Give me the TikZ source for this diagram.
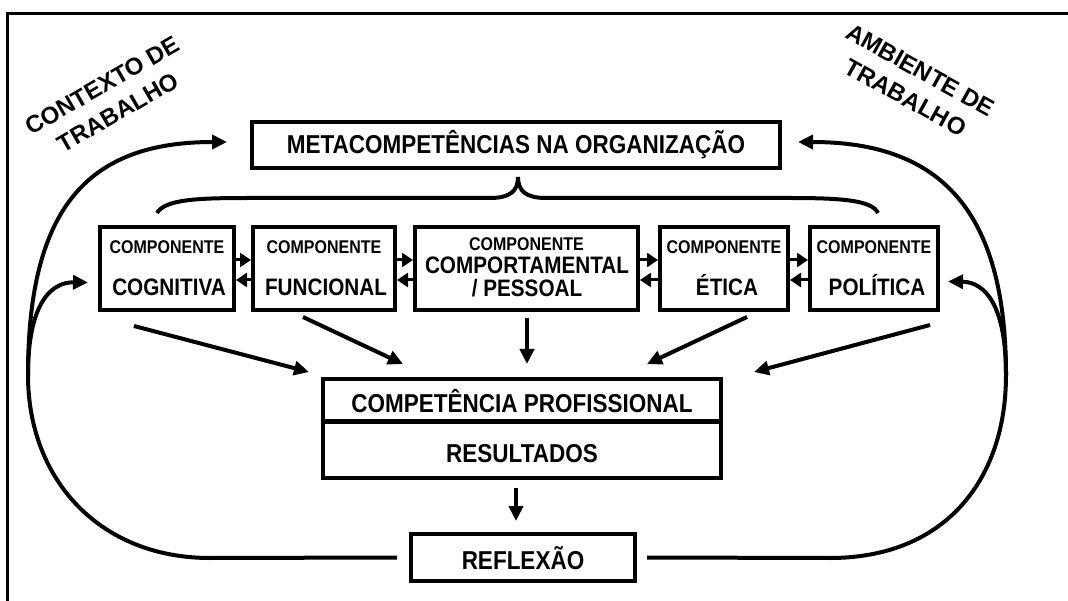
\documentclass[tikz,border=0pt]{standalone}
\usepackage{fontspec}
\usepackage{graphicx}
\setmainfont{Liberation Sans}
\usetikzlibrary{arrows.meta,calc}
\newcommand\vstretch[1]{\scalebox{1}[1.15]{#1}}
\begin{document}
\begin{tikzpicture}[x=1pt,y=-1pt,
  box/.style={draw,line width=4pt,inner sep=0pt,minimum height=#1},
  box/.default=83pt,
  conn/.style={line width=4pt,-{Triangle[length=15pt,width=14pt]}},
  dbl/.style={line width=3pt,-{Triangle[length=11pt,width=14pt]}},
  curveline/.style={line width=4pt},
  bigtxt/.style={font=\fontsize{22.5}{22.5}\selectfont\bfseries,anchor=base,inner sep=0pt},
  midtxt/.style={font=\fontsize{20.7}{20.7}\selectfont\bfseries,anchor=base,inner sep=0pt},
  smalltxt/.style={font=\fontsize{16}{16}\selectfont\bfseries,anchor=base,inner sep=0pt},
  lbl/.style={font=\fontsize{24}{31}\selectfont\bfseries,inner sep=0pt,align=center}
]
\useasboundingbox (0,0) rectangle (1068,601);
% frame
\draw[line width=3pt] (1068,14) -- (7,14) -- (7,601);

% boxes
\node[box=46pt,minimum width=528pt] (meta) at (516,145) {};
\node[box,minimum width=134pt] (cog) at (167,268.5) {};
\node[box,minimum width=142pt] (fun) at (324,268.5) {};
\node[box,minimum width=223pt] (cmp) at (526.5,268.5) {};
\node[box,minimum width=128pt] (eti) at (724,268.5) {};
\node[box,minimum width=128pt] (pol) at (874,268.5) {};
\node[box=42pt,minimum width=398pt] (prof) at (522,400) {};
\node[box=56pt,minimum width=398pt] (res) at (522,450) {};
\node[box=47pt,minimum width=224pt] (ref) at (523,557.5) {};

% texts
\node[bigtxt] (tmeta) at (516,154) {\vstretch{METACOMPETÊNCIAS NA ORGANIZAÇÃO}};
\node[bigtxt] (tprof) at (522,412) {\vstretch{COMPETÊNCIA PROFISSIONAL}};
\node[bigtxt] (tres) at (522,462) {\vstretch{RESULTADOS}};
\node[bigtxt] (tref) at (523,569) {\vstretch{REFLEXÃO}};

\node[smalltxt] (c1a) at (167,254) {\vstretch{COMPONENTE}};
\node[midtxt] (c1b) at (169,296) {\vstretch{COGNITIVA}};
\node[smalltxt] (c2a) at (324,254) {\vstretch{COMPONENTE}};
\node[midtxt] (c2b) at (326,296) {\vstretch{FUNCIONAL}};
\node[smalltxt] (c3a) at (526.5,251) {\vstretch{COMPONENTE}};
\node[midtxt] (c3b) at (527,274) {\vstretch{COMPORTAMENTAL}};
\node[midtxt] (c3c) at (527,297) {\vstretch{/ PESSOAL}};
\node[smalltxt] (c4a) at (724,254) {\vstretch{COMPONENTE}};
\node[midtxt] (c4b) at (727,296) {\vstretch{ÉTICA}};
\node[smalltxt] (c5a) at (874,254) {\vstretch{COMPONENTE}};
\node[midtxt] (c5b) at (877,296) {\vstretch{POLÍTICA}};

% rotated labels
\node[lbl,rotate=30] (l1) at (110,99) {CONTEXTO DE\\TRABALHO};
\node[lbl,rotate=-29] (l2) at (913,84) {AMBIENTE DE\\TRABALHO};

% brace
\draw[curveline] (157,213) .. controls (165,199) and (200,198) .. (250,198) -- (490,198)
  .. controls (510,198) and (518,191) .. (518,177)
  .. controls (518,191) and (526,198) .. (546,198) -- (790,198)
  .. controls (840,198) and (872,200) .. (878,213);

% double arrows between components
\foreach \a/\b in {cog/fun,fun/cmp,cmp/eti,eti/pol}{
  \draw[dbl] ($(\a.east)+(-3,-8.5)$) -- ($(\b.west)+(0,-8.5)$);
  \draw[dbl] ($(\b.west)+(3,11.5)$) -- ($(\a.east)+(0,11.5)$);
}

% arrows into competence box
\coordinate (a1s) at (134,326); \coordinate (a1e) at (309,372);
\coordinate (a2s) at (303,317); \coordinate (a2e) at (403,364);
\coordinate (a3s) at (527,318); \coordinate (a3e) at (527,364);
\coordinate (a4s) at (747,317); \coordinate (a4e) at (647,364);
\coordinate (a5s) at (930,325); \coordinate (a5e) at (754,372);
\draw[conn] (a1s) -- (a1e);
\draw[conn] (a2s) -- (a2e);
\draw[conn] (a3s) -- (a3e);
\draw[conn] (a4s) -- (a4e);
\draw[conn] (a5s) -- (a5e);

% resultados -> reflexao
\draw[conn] ($(res.south)+(-6,8)$) -- ($(ref.north)+(-7,-11)$);

% left loop
\draw[conn] ($(ref.west)+(-12,0)$) -- (210,558) .. controls (100,558) and (28,480) .. (28,375)
  coordinate (lj) .. controls (28,205) and (90,142) .. ($(meta.west)+(-23,-3)$);
\draw[conn] (lj) .. controls (28,305) and (50,282) .. ($(cog.west)+(-10,14)$);

% right loop
\draw[conn] ($(ref.east)+(10,0)$) -- (830,558) .. controls (945,558) and (1006,480) .. (1006,375)
  coordinate (rj) .. controls (1006,210) and (940,142) .. ($(meta.east)+(16,-3)$);
\draw[conn] (rj) .. controls (1006,305) and (985,282) .. ($(pol.east)+(8,13)$);
\end{tikzpicture}
\end{document}
